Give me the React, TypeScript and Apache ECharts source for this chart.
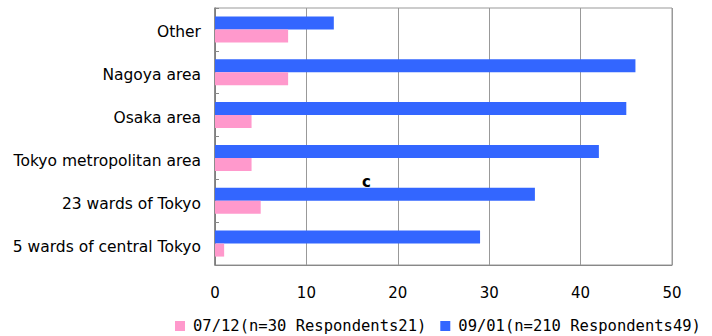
import React, { useEffect, useRef } from "react";
import * as echarts from "echarts";

const categories = [
  "5 wards of central Tokyo",
  "23 wards of Tokyo",
  "Tokyo metropolitan area",
  "Osaka area",
  "Nagoya area",
  "Other",
];
const seriesNames = ["07/12(n=30 Respondents21)", "09/01(n=210 Respondents49)"];
const julyValues = [1, 5, 4, 4, 8, 8];
const septValues = [29, 35, 42, 45, 46, 13];
const xTicks = { min: 0, max: 50, interval: 10 };
const annotation = "c";

const FONT = "DejaVu Sans";

export default function App() {
  const ref = useRef<HTMLDivElement>(null);
  useEffect(() => {
    document.body.style.margin = "0";
    if (!ref.current) return;
    const chart = echarts.init(ref.current, null, { renderer: "svg" });
    chart.setOption({
      animation: false,
      backgroundColor: "#ffffff",
      textStyle: { fontFamily: FONT },
      grid: {
        left: 215,
        right: 40,
        top: 8,
        bottom: 71,
        show: true,
        borderColor: "#999999",
        borderWidth: 1,
        containLabel: false,
      },
      xAxis: {
        type: "value",
        min: xTicks.min,
        max: xTicks.max,
        interval: xTicks.interval,
        axisLine: { show: true, lineStyle: { color: "#888888", width: 1 } },
        axisTick: { show: false },
        splitLine: { show: true, lineStyle: { color: "#999999", width: 1 } },
        axisLabel: { color: "#000000", fontSize: 15, fontFamily: FONT, margin: 20 },
      },
      yAxis: {
        type: "category",
        data: categories,
        axisLine: { show: true, lineStyle: { color: "#777777", width: 1.5 } },
        axisTick: { show: true, inside: true, length: 4, lineStyle: { color: "#888888" } },
        axisLabel: {
          color: "#000000",
          fontSize: 15.5,
          fontFamily: FONT,
          margin: 14,
          formatter: (v: string) => "{a|" + v + "}",
          rich: {
            a: {
              color: "#000000",
              fontSize: 15.5,
              fontFamily: FONT,
              padding: [6, 0, 0, 0],
            },
          },
        },
        splitLine: { show: false },
      },
      legend: {
        top: 313,
        left: 170,
        itemWidth: 10,
        itemHeight: 10,
        itemGap: 14,
        icon: "rect",
        textStyle: {
          color: "#000000",
          fontSize: 15.5,
          fontFamily: "DejaVu Sans Mono",
          padding: [0, 0, 0, 3],
        },
        data: seriesNames,
      },
      series: [
        {
          name: seriesNames[1],
          type: "bar",
          data: septValues,
          barWidth: 13,
          barGap: "0%",
          itemStyle: { color: "#3366ff" },
        },
        {
          name: seriesNames[0],
          type: "bar",
          data: julyValues,
          barWidth: 13,
          barGap: "0%",
          itemStyle: { color: "#ff99cc" },
        },
      ],
      graphic: [
        {
          type: "text",
          left: 362,
          top: 174,
          style: {
            text: annotation,
            fill: "#000000",
            font: "bold 15px 'DejaVu Sans'",
          },
        },
      ],
    });
    return () => chart.dispose();
  }, []);
  return <div ref={ref} style={{ width: 712, height: 336 }} />;
}
